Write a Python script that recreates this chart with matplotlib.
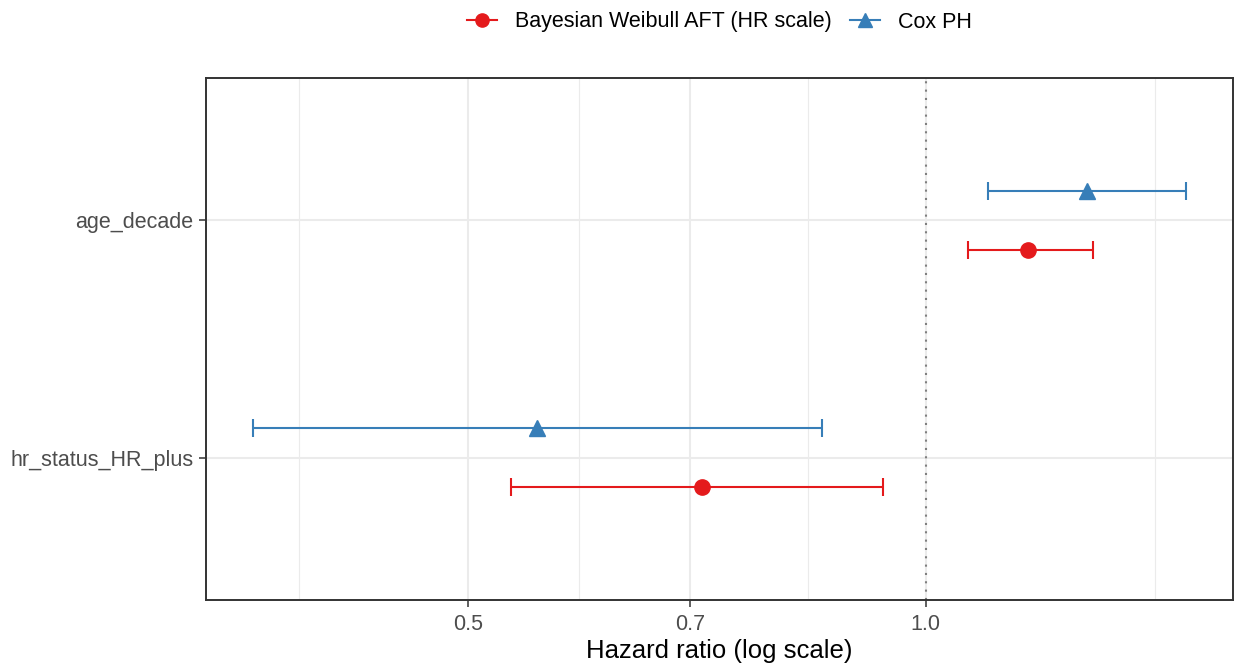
import numpy as np
import matplotlib
matplotlib.use("Agg")
import matplotlib.pyplot as plt
from matplotlib.ticker import FixedLocator, FixedFormatter, NullFormatter

plt.rcParams['font.family'] = ['Liberation Sans', 'DejaVu Sans']

# Estimates (hazard ratio scale)
terms = ['hr_status_HR_plus', 'age_decade']
models = ['Bayesian Weibull AFT (HR scale)', 'Cox PH']
colors = ['#E41A1C', '#377EB8']
marks = ['o', '^']

weibull_est = [0.713, 1.167]
weibull_lo = [0.534, 1.066]
weibull_hi = [0.937, 1.288]

cox_est = [0.555, 1.277]
cox_lo = [0.361, 1.099]
cox_hi = [0.855, 1.484]

major_breaks = [0.5, 0.7, 1.0]
major_labels = ['0.5', '0.7', '1.0']
all_breaks = [0.3, 0.5, 0.7, 1.0, 2.0]

fig = plt.figure(figsize=(12.35, 6.64), dpi=100)
ax = fig.add_axes([206/1235, 1 - 600/664, (1233 - 206)/1235, (600 - 78)/664])

y = np.arange(1, len(terms) + 1)
dodge = 0.125
series = [(weibull_est, weibull_lo, weibull_hi, -dodge),
          (cox_est, cox_lo, cox_hi, dodge)]

for (est, lo, hi, off), name, col, mk in zip(series, models, colors, marks):
    est = np.array(est); lo = np.array(lo); hi = np.array(hi)
    ax.errorbar(est, y + off, xerr=[est - lo, hi - est], fmt='none',
                ecolor=col, elinewidth=1.5, capsize=6.5, capthick=1.5, zorder=3)
    ax.plot(est, y + off, linestyle='none', marker=mk, color=col,
            markersize=11, zorder=4)
    ax.plot([], [], color=col, marker=mk, markersize=9.5, lw=1.5, label=name)

ax.axvline(1.0, color='#7F7F7F', linestyle=(0, (1, 3)), lw=1.5, zorder=2)

ax.set_xscale('log')
allv = np.log(np.concatenate([weibull_lo, weibull_hi, cox_lo, cox_hi]))
rng = allv.max() - allv.min()
ax.set_xlim(np.exp(allv.min() - 0.05 * rng), np.exp(allv.max() + 0.05 * rng))
ax.set_ylim(0.4, 2.6)

ax.xaxis.set_major_locator(FixedLocator(major_breaks))
ax.xaxis.set_major_formatter(FixedFormatter(major_labels))
minors = [np.sqrt(a * b) for a, b in zip(all_breaks[:-1], all_breaks[1:])]
ax.xaxis.set_minor_locator(FixedLocator(minors))
ax.xaxis.set_minor_formatter(NullFormatter())

ax.set_yticks(y)
ax.set_yticklabels(terms)

ax.grid(which='major', color='#EBEBEB', lw=1.5, zorder=0)
ax.grid(which='minor', axis='x', color='#EBEBEB', lw=0.8, zorder=0)
ax.set_axisbelow(True)

ax.tick_params(which='major', length=5, width=1.1, color='#333333',
               labelsize=15.5, labelcolor='#4D4D4D', pad=4)
ax.tick_params(axis='x', which='major', pad=5)
ax.tick_params(which='minor', length=0)
for s in ax.spines.values():
    s.set_color('#333333')
    s.set_linewidth(1.4)

ax.set_xlabel('Hazard ratio (log scale)', fontsize=18.5, color='black', labelpad=3)

ax.legend(loc='center', bbox_to_anchor=(0.5, 1 + 56/522), ncol=2, frameon=False,
          fontsize=15.5, handlelength=1.4, columnspacing=0.84, handletextpad=0.84,
          borderaxespad=0)

fig.savefig('out.png', dpi=100)
